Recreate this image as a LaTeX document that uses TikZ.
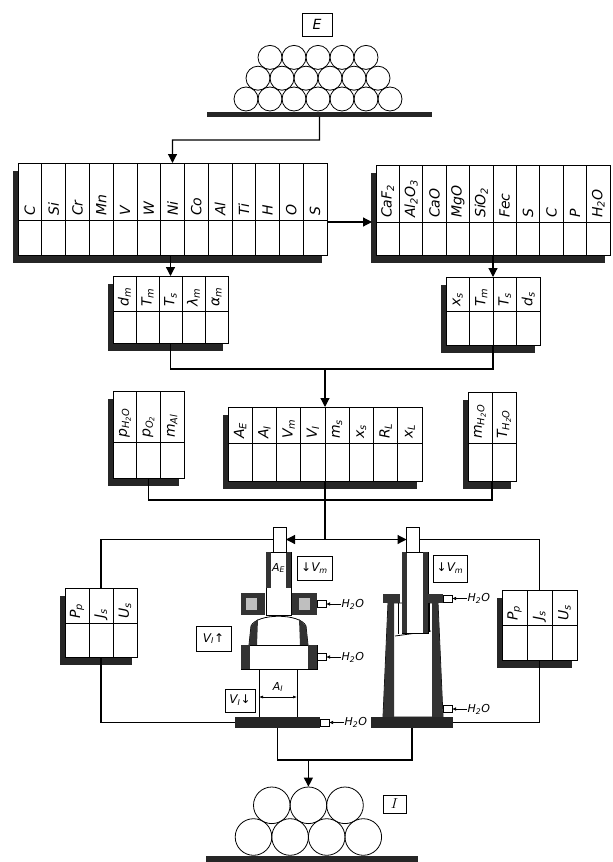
\documentclass[tikz,border=0pt]{standalone}
\usepackage{fontspec}
\setsansfont{DejaVu Sans}
\usetikzlibrary{arrows.meta, positioning}

\newcommand{\ix}[1]{\textsubscript{#1}}

\tikzset{
  tabbox/.style={draw, line width=0.8pt, fill=white, inner sep=0pt, outer sep=0pt},
  tablab/.style={rotate=90, anchor=west, inner sep=0pt, font=\sffamily\itshape\fontsize{14}{14}\selectfont},
  tabshadow/.style={fill=black!85},
  wall/.style={fill=black!80},
  linkline/.style={line width=1.2pt},
  flowline/.style={linkline, -{Triangle[length=9pt,width=9pt]}},
  basebar/.style={fill=black!85, inner sep=0pt, outer sep=0pt},
  lbox/.style={draw, line width=1pt, fill=white, inner sep=0pt},
  stub/.style={draw, line width=0.8pt, fill=white, inner sep=0pt, outer sep=0pt, minimum width=13pt, minimum height=25pt},
  pipe/.style={draw, line width=0.6pt, fill=white, inner sep=0pt, outer sep=0pt, minimum width=9pt, minimum height=7pt},
  water/.style={font=\sffamily\itshape\fontsize{11}{11}\selectfont, inner sep=0.5pt},
  ball/.style={circle, draw, line width=0.8pt, inner sep=0pt},
}

% table: name, x, y, columns, column width, header height, lower height, labels
\newcommand{\datatab}[8]{%
  \pgfmathsetmacro\tabw{#4*#5}%
  \pgfmathsetmacro\tabh{#6+#7}%
  \fill[tabshadow] (#2-5,#3+8) rectangle ++(\tabw,\tabh);
  \node[tabbox, minimum width=\tabw, minimum height=\tabh, anchor=north west] (#1) at (#2,#3) {};
  \coordinate (#1m) at (#2,#3+#6);
  \draw[line width=0.7pt] (#1m) -- ++(\tabw,0);
  \foreach \lab [count=\i] in {#8} {
    \draw[line width=0.7pt] (#2+\i*#5,#3) -- ++(0,\tabh);
    \node[tablab] at (#2+\i*#5-#5/2,#3+#6-4) {\lab};
  }
}

% water inlet: name, x, y
\newcommand{\inlet}[3]{%
  \node[pipe, anchor=west] (#1p) at (#2,#3) {};
  \node[water, right=15pt of #1p] (#1t) {H\ix{2}O};
  \draw[line width=0.6pt, -{Latex[length=4pt,width=3.5pt]}] (#1t.west) -- (#1p.east);
}

\begin{document}
\begin{tikzpicture}[x=1pt, y=-1pt, font=\sffamily\itshape\fontsize{12}{12}\selectfont]
    \useasboundingbox (0,0) rectangle (613,862);

    % Electrode stock
    \foreach \row/\n in {0/7,1/6,2/5}
        \foreach \k in {1,...,\n}
            \node[ball, minimum size=24] (feed-\row-\k) at (246+12*\row+24*\k-24, 99-20.8*\row) {};
    \node[basebar, minimum width=225, minimum height=5] (feedbar) at (319.5,114) {};
    \node[lbox, minimum width=30, minimum height=23, font=\sffamily\itshape\fontsize{14}{14}\selectfont] (E) at (317,24.5) {E};

    % Left unit (electrode, mould, slag bath, ingot)
    \draw[line width=0.8pt, fill=white] (266,552) rectangle (291,615);
    \fill[wall] (266,552) rectangle (271,588);
    \fill[wall] (286,552) rectangle (291,588);
    \node[font=\sffamily\itshape\fontsize{11}{11}\selectfont, inner sep=0pt] (ae) at (278.5,568) {A\ix{E}};
    \fill[wall] (241,593) rectangle (265,615);
    \fill[black!25] (246,598) rectangle (257,610);
    \fill[wall] (292,593) rectangle (317,615);
    \fill[black!25] (299,598) rectangle (310,610);
    \draw[line width=0.8pt, fill=white] (249,645) -- (251,626) .. controls (257,613) and (300,613) .. (306,626) -- (308,645);
    \fill[wall] (249,645) -- (251,626) -- (258,619) -- (257,645) -- cycle;
    \fill[wall] (308,645) -- (306,626) -- (299,619) -- (300,645) -- cycle;
    \draw[line width=0.8pt, fill=white] (241,645) rectangle (317,669);
    \fill[wall] (241,645) rectangle (250,669);
    \fill[wall] (308,645) rectangle (317,669);
    \draw[line width=0.8pt, fill=white] (259,669) rectangle (297,717);
    \draw[line width=0.6pt, {Latex[length=4pt,width=3pt]}-{Latex[length=4pt,width=3pt]}] (259,697) -- (297,697);
    \node[font=\sffamily\itshape\fontsize{11}{11}\selectfont, inner sep=0pt] (ai) at (278,687) {A\ix{I}};
    \node[basebar, minimum width=85, minimum height=11] (lbase) at (277.5,722.5) {};
    \node[stub] (lstub) at (279.5,539.5) {};
    \inlet{lwa}{317}{604}
    \inlet{lwb}{317}{657}
    \inlet{lwc}{320}{722.5}
    \node[lbox, minimum width=35, minimum height=24] (vmL) at (314.5,568) {↓V\ix{m}};
    \node[lbox, minimum width=35, minimum height=25] (viU) at (213.5,638.5) {V\ix{I}↑};
    \node[lbox, minimum width=30, minimum height=23] (viD) at (240,700.5) {V\ix{I}↓};

    % Right unit (tapered mould)
    \draw[line width=0.8pt, fill=white] (388,603) -- (438,603) -- (443,717) -- (383,717) -- cycle;
    \fill[wall] (388,603) -- (394,603) -- (394,717) -- (383,717) -- cycle;
    \fill[wall] (432,603) -- (438,603) -- (443,717) -- (432,717) -- cycle;
    \draw[line width=0.6pt] (398,603) -- (398,634);
    \draw[line width=0.6pt] (429,603) -- (429,632);
    \draw[line width=0.8pt] (395,636) -- (431,631);
    \draw[line width=0.8pt, fill=white] (402,552) rectangle (428,633);
    \fill[wall] (402,552) rectangle (407,633);
    \fill[wall] (423,552) rectangle (428,633);
    \fill[wall] (383,594) rectangle (400,603);
    \fill[wall] (428,594) rectangle (443,603);
    \node[stub] (rstub) at (413,539.5) {};
    \node[basebar, minimum width=82, minimum height=11] (rbase) at (412,722.5) {};
    \inlet{rwa}{443}{598.5}
    \inlet{rwb}{443}{709}
    \node[lbox, minimum width=34, minimum height=27] (vmR) at (450,568.5) {↓V\ix{m}};

    % Data tables
    \datatab{tabE}{18}{163}{13}{23.77}{57}{35}{C,Si,Cr,Mn,V,W,Ni,Co,Al,Ti,H,O,S}
    \datatab{tabS}{376}{165}{10}{23.4}{57}{33}{CaF\ix{2},Al\ix{2}O\ix{3},CaO,MgO,SiO\ix{2},Fec,S,C,P,H\ix{2}O}
    \datatab{tabM}{113}{276}{5}{23}{35}{32}{d\ix{m},T\ix{m},T\ix{s},λ\ix{m},α\ix{m}}
    \datatab{tabX}{446}{277}{4}{23.5}{34}{34}{x\ix{s},T\ix{m},T\ix{s},d\ix{s}}
    \datatab{tabG}{113}{391}{3}{23.7}{51}{36}{p\ix{H\ix{2}O},p\ix{O\ix{2}},m\ix{Al}}
    \datatab{tabP}{228}{407}{8}{24.25}{36}{38}{A\ix{E},A\ix{I},V\ix{m},V\ix{I},m\ix{s},x\ix{s},R\ix{L},x\ix{L}}
    \datatab{tabW}{468}{392}{2}{24}{51}{38}{m\ix{H\ix{2}O},T\ix{H\ix{2}O}}
    \datatab{tabL}{65}{588}{3}{24}{35}{34}{P\ix{p},J\ix{s},U\ix{s}}
    \datatab{tabR}{502}{590}{3}{25}{35}{35}{P\ix{p},J\ix{s},U\ix{s}}

    % Ingot stock
    \foreach \k in {1,...,4}
        \node[ball, minimum size=36.6] (outB\k) at (253.5+36.6*\k-36.6,837) {};
    \foreach \k in {1,...,3}
        \node[ball, minimum size=36.6] (outT\k) at (271.8+36.6*\k-36.6,805.3) {};
    \node[basebar, minimum width=212, minimum height=6] (outbar) at (312,858.5) {};
    \node[lbox, minimum width=23, minimum height=18, font=\fontsize{14}{14}\selectfont] (I) at (394.5,804) {$I$};

    % Connectors
    \coordinate (j0) at (172.5,140);
    \draw[flowline] (feedbar.south) |- (j0) -- (tabE.north);
    \draw[flowline] (tabE.east |- tabSm) -- ([xshift=-4pt]tabSm);
    \draw[flowline] (tabE.south -| tabM.north) -- (tabM.north);
    \draw[flowline] (tabS.south -| tabX.north) -- (tabX.north);
    \coordinate (j1) at (325,369);
    \draw[linkline] (tabM.south) |- (j1) -| (tabX.south);
    \draw[flowline] (j1) -- (tabP.north);
    \coordinate (j2) at (325,500);
    \draw[linkline] (tabG.south) |- (j2) -| (tabW.south);
    \draw[linkline] (tabP.south) -- (j2) -- (j2 |- lstub.east);
    \draw[linkline, {Triangle[length=9pt,width=9pt]}-{Triangle[length=9pt,width=9pt]}] (lstub.east) -- (rstub.west);
    \draw[linkline] (lstub.west) -| (tabL.north);
    \draw[linkline] (tabL.south) |- (lbase.west);
    \draw[linkline] (rstub.east) -| (tabR.north);
    \draw[linkline] (tabR.south) |- (rbase.east);
    \draw[linkline] (lbase.south) -- ++(0,32) coordinate (j3) -| (rbase.south);
    \draw[flowline] (outT2.north |- j3) -- (outT2.north);
\end{tikzpicture}
\end{document}
